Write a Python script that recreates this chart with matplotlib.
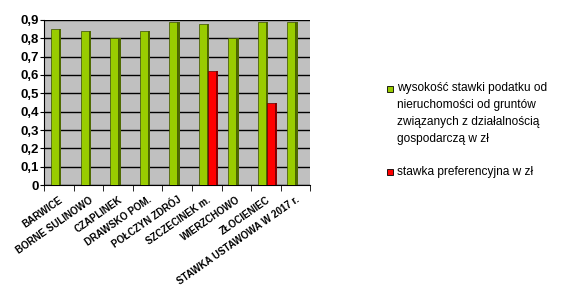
import numpy as np
import matplotlib.pyplot as plt
from matplotlib.patches import Rectangle

plt.rcParams['font.family'] = ['Liberation Sans', 'DejaVu Sans']

# data
gminy = ['BARWICE', 'BORNE SULINOWO', 'CZAPLINEK', 'DRAWSKO POM.', 'POŁCZYN ZDRÓJ',
         'SZCZECINEK m.', 'WIERZCHOWO', 'ZŁOCIENIEC', 'STAWKA USTAWOWA W 2017 r.']
stawka = [0.85, 0.84, 0.80, 0.84, 0.89, 0.88, 0.80, 0.89, 0.89]
preferencyjna = [0, 0, 0, 0, 0, 0.62, 0, 0.45, 0]

label_green = ('wysokość stawki podatku od\nnieruchomości od gruntów\n'
               'związanych z działalnością\ngospodarczą w zł')
label_red = 'stawka preferencyjna w zł'

GREEN, GREEN_SIDE = '#99cc00', '#4f6a00'
RED, RED_SIDE = '#ff0000', '#8a0000'

fig = plt.figure(figsize=(5.68, 3.06), dpi=100)
ax = fig.add_axes([0.078, 0.395, 0.468, 0.54])

x = np.arange(len(gminy))
w = 0.27
side = 0.08

# green bars with a dark side face for the 3D look
ax.bar(x - w / 2, stawka, width=w, color=GREEN, edgecolor='#3a4d00', linewidth=0.5, zorder=3)
ax.bar(x + side / 2, stawka, width=side, color=GREEN_SIDE, linewidth=0, zorder=2)

# red bars, only where there is a value
pref = np.array(preferencyjna, dtype=float)
pref[pref == 0] = np.nan
ax.bar(x + w / 2 + side / 2, pref, width=w, color=RED, edgecolor='#600000', linewidth=0.5, zorder=3)
ax.bar(x + w + side, pref, width=side, color=RED_SIDE, linewidth=0, zorder=2)

ax.set_facecolor('#c0c0c0')
ax.set_xlim(-0.5, len(gminy) - 0.5)
ax.set_ylim(0, 0.9)
ax.set_yticks(np.arange(0, 0.91, 0.1))
ax.set_yticklabels(['0'] + [f'{v:.1f}'.replace('.', ',') for v in np.arange(0.1, 0.91, 0.1)],
                   fontweight='bold', fontsize=9.5)
ax.yaxis.grid(True, color='black', linewidth=1, zorder=1)
ax.set_axisbelow(True)

ax.set_xticks(x)
ax.set_xticklabels(gminy, rotation=35, ha='right', rotation_mode='anchor',
                   fontsize=7, fontweight='bold')
ax.tick_params(axis='x', length=0, pad=7)
ax.set_xticks(np.arange(-0.5, len(gminy)), minor=True)
ax.tick_params(axis='x', which='minor', length=4)
ax.tick_params(axis='y', length=3, pad=1)

for s in ['top', 'right']:
    ax.spines[s].set_visible(False)

# legend drawn by hand so the marker sits at the first line
fig.add_artist(Rectangle((387 / 568, 1 - 92 / 306), 6 / 568, 6 / 306,
                         transform=fig.transFigure, facecolor=GREEN,
                         edgecolor='black', linewidth=0.6))
fig.text(397 / 568, 1 - 82 / 306, label_green, fontsize=8.6, va='top', ha='left',
         linespacing=1.55)
fig.add_artist(Rectangle((387 / 568, 1 - 175 / 306), 6 / 568, 6 / 306,
                         transform=fig.transFigure, facecolor=RED,
                         edgecolor='black', linewidth=0.6))
fig.text(397 / 568, 1 - 172 / 306, label_red, fontsize=8.6, va='center', ha='left')

plt.savefig('out.png', dpi=100)
